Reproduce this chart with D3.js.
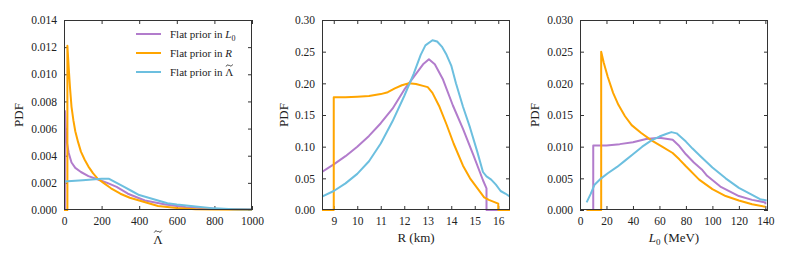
<!DOCTYPE html>
<html>
<head>
<meta charset="utf-8">
<script src="https://cdn.jsdelivr.net/npm/d3@7"></script>
<style>
  body { margin: 0; background: #fff; }
  text { font-family: "Liberation Serif", "DejaVu Serif", serif; fill: #222; }
</style>
</head>
<body>
<div class="chart"></div>
<script>
// Posterior PDFs for three prior choices, three panels

var svgWidth = 789;
var svgHeight = 263;

var seriesNames = ["L0", "R", "Lambda"];
var seriesColors = { L0: "#b27ccc", R: "#ffa500", Lambda: "#6cbfdf" };

// panel 1: tidal deformability
var lamTicks = [0, 200, 400, 600, 800, 1000];
var lamYTicks = [0, 0.002, 0.004, 0.006, 0.008, 0.010, 0.012, 0.014];
var lamL0 = [[0, 0], [5, 0], [5, 0.0073], [10, 0.0058], [15, 0.0050], [25, 0.0042], [40, 0.0035],
  [60, 0.0031], [90, 0.0028], [130, 0.0025], [170, 0.0023], [230, 0.0020], [280, 0.0017],
  [340, 0.0012], [430, 0.0007], [540, 0.0004], [650, 0.0002], [800, 0.0001], [1000, 0.00003]];
var lamR = [[0, 0], [18, 0], [18, 0.0121], [25, 0.0105], [32, 0.0090], [40, 0.0076], [50, 0.0066],
  [60, 0.0058], [75, 0.0050], [90, 0.0043], [110, 0.0037], [130, 0.0032], [155, 0.0027],
  [180, 0.0023], [210, 0.0020], [250, 0.0016], [300, 0.0012], [350, 0.0009], [400, 0.0007],
  [450, 0.0005], [500, 0.0003], [600, 0.00015], [700, 0.00006], [800, 0.00003], [1000, 0.00001]];
var lamLam = [[0, 0.0021], [100, 0.0022], [200, 0.0023], [240, 0.0023], [280, 0.0020],
  [320, 0.0017], [360, 0.0014], [400, 0.0011], [450, 0.0009], [500, 0.0007], [550, 0.0005],
  [600, 0.0004], [700, 0.00025], [800, 0.00012], [900, 0.00006], [1000, 0.00003]];

// panel 2: radius
var radTicks = [9, 10, 11, 12, 13, 14, 15, 16];
var radYTicks = [0, 0.05, 0.10, 0.15, 0.20, 0.25, 0.30];
var radL0 = [[8.5, 0.060], [9, 0.072], [9.5, 0.085], [10, 0.100], [10.5, 0.117], [11, 0.137],
  [11.5, 0.160], [12, 0.190], [12.5, 0.215], [12.8, 0.230], [13.05, 0.238], [13.3, 0.230],
  [13.65, 0.206], [14.07, 0.165], [14.5, 0.128], [14.93, 0.088], [15.35, 0.047], [15.5, 0.034],
  [15.5, 0], [16.5, 0]];
var radR = [[8.5, 0], [9, 0], [9, 0.178], [9.5, 0.178], [10, 0.179], [10.5, 0.180], [11, 0.183],
  [11.3, 0.186], [11.6, 0.192], [11.9, 0.197], [12.2, 0.200], [12.5, 0.199], [12.8, 0.196],
  [13.0, 0.194], [13.2, 0.185], [13.5, 0.163], [13.8, 0.135], [14.1, 0.105], [14.5, 0.070],
  [14.8, 0.050], [15.1, 0.035], [15.4, 0.020], [15.6, 0.016], [16, 0.010], [16, 0], [16.5, 0]];
var radLam = [[8.5, 0.021], [9, 0.030], [9.5, 0.042], [10, 0.057], [10.5, 0.077], [11, 0.105],
  [11.5, 0.140], [12, 0.180], [12.4, 0.215], [12.7, 0.245], [12.9, 0.260], [13.2, 0.268],
  [13.4, 0.266], [13.6, 0.258], [13.8, 0.245], [14.0, 0.228], [14.2, 0.200], [14.5, 0.163],
  [14.8, 0.130], [15.1, 0.093], [15.35, 0.060], [15.5, 0.053], [15.7, 0.048], [15.9, 0.040],
  [16.1, 0.030], [16.3, 0.026], [16.5, 0.021]];

// panel 3: slope of symmetry energy
var slopeTicks = [0, 20, 40, 60, 80, 100, 120, 140];
var slopeYTicks = [0, 0.005, 0.010, 0.015, 0.020, 0.025, 0.030];
var slopeL0 = [[5, 0], [10, 0], [10, 0.0102], [20, 0.0102], [30, 0.0104], [40, 0.0107],
  [50, 0.0112], [60, 0.0114], [70, 0.0111], [75, 0.0101], [80, 0.0088], [86, 0.0075],
  [92, 0.0064], [96, 0.0054], [106, 0.0037], [120, 0.0022], [130, 0.0016], [140, 0.0012],
  [140, 0.0009]];
var slopeR = [[5, 0], [16, 0], [16, 0.025], [18, 0.0232], [21, 0.021], [25, 0.0185], [29, 0.0166],
  [34, 0.0148], [39, 0.0134], [46, 0.0122], [54, 0.0110], [62, 0.0100], [70, 0.0090],
  [75, 0.0080], [80, 0.0069], [90, 0.0048], [100, 0.0033], [110, 0.0022], [120, 0.0015],
  [130, 0.0009], [140, 0.0005]];
var slopeLam = [[5, 0.0012], [8, 0.0025], [11, 0.0040], [16, 0.0050], [21, 0.0058], [28, 0.0068],
  [34, 0.0078], [40, 0.0088], [47, 0.0100], [54, 0.0110], [60, 0.0116], [65, 0.0120],
  [69, 0.0123], [73, 0.0121], [80, 0.0108], [85, 0.0097], [91, 0.0085], [100, 0.0067],
  [110, 0.0050], [120, 0.0035], [130, 0.0024], [136, 0.0017], [141, 0.0015]];

var panels = [
  { left: 64, xDomain: [0, 1000], yDomain: [0, 0.014], xTicks: lamTicks, yTicks: lamYTicks,
    xFmt: d3.format("d"), yFmt: d3.format(".3f"), pdfX: 18,
    data: { L0: lamL0, R: lamR, Lambda: lamLam } },
  { left: 322, xDomain: [8.5, 16.5], yDomain: [0, 0.30], xTicks: radTicks, yTicks: radYTicks,
    xFmt: d3.format("d"), yFmt: d3.format(".2f"), pdfX: 283,
    data: { L0: radL0, R: radR, Lambda: radLam } },
  { left: 580, xDomain: [0, 142], yDomain: [0, 0.030], xTicks: slopeTicks, yTicks: slopeYTicks,
    xFmt: d3.format("d"), yFmt: d3.format(".3f"), pdfX: 534,
    data: { L0: slopeL0, R: slopeR, Lambda: slopeLam } }
];

var plotTop = 20;
var width = 188;
var height = 190;

var svg = d3.select(".chart")
  .append("svg")
  .attr("width", svgWidth)
  .attr("height", svgHeight);

// small wavy tilde drawn over a glyph box
function addTilde(parent, box, lift) {
  var w = box.width * 0.8;
  var cx = box.x + box.width / 2;
  var cy = box.y - lift;
  var p = d3.path();
  p.moveTo(cx - w / 2, cy + 1);
  p.bezierCurveTo(cx - w / 4, cy - 2.2, cx - w / 8, cy + 0.5, cx, cy);
  p.bezierCurveTo(cx + w / 8, cy - 0.5, cx + w / 4, cy + 2.2, cx + w / 2, cy - 1);
  parent.append("path")
    .attr("d", p.toString())
    .attr("fill", "none")
    .attr("stroke", "#222")
    .attr("stroke-width", 0.9);
}

panels.forEach(function(p, i) {
  var g = svg.append("g")
    .attr("transform", `translate(${p.left}, ${plotTop})`);

  var x = d3.scaleLinear().domain(p.xDomain).range([0, width]);
  var y = d3.scaleLinear().domain(p.yDomain).range([height, 0]);

  // inward ticks on all four sides
  g.append("g")
    .attr("transform", `translate(0, ${height})`)
    .call(d3.axisBottom(x).tickValues(p.xTicks).tickFormat(p.xFmt).tickSizeInner(-4).tickSizeOuter(0).tickPadding(7));
  g.append("g")
    .call(d3.axisLeft(y).tickValues(p.yTicks).tickFormat(p.yFmt).tickSizeInner(-4).tickSizeOuter(0).tickPadding(7));
  g.append("g")
    .call(d3.axisTop(x).tickValues(p.xTicks).tickFormat("").tickSizeInner(-4).tickSizeOuter(0));
  g.append("g")
    .attr("transform", `translate(${width}, 0)`)
    .call(d3.axisRight(y).tickValues(p.yTicks).tickFormat("").tickSizeInner(-4).tickSizeOuter(0));

  g.selectAll(".domain").remove();
  g.selectAll(".tick line").attr("stroke", "#333");
  g.selectAll(".tick text")
    .style("font-family", "Liberation Serif")
    .style("font-size", "11.5px")
    .attr("fill", "#222");

  var line = d3.line()
    .x(d => x(d[0]))
    .y(d => y(d[1]));

  var clipId = "clip" + i;
  g.append("clipPath").attr("id", clipId)
    .append("rect").attr("width", width).attr("height", height + 1);

  seriesNames.forEach(function(s) {
    g.append("path")
      .datum(p.data[s])
      .attr("clip-path", `url(#${clipId})`)
      .attr("fill", "none")
      .attr("stroke", seriesColors[s])
      .attr("stroke-width", 2)
      .attr("stroke-linejoin", "round")
      .attr("d", line);
  });

  // frame
  g.append("rect")
    .attr("x", 0.5)
    .attr("y", 0.5)
    .attr("width", width - 1)
    .attr("height", height - 1)
    .attr("fill", "none")
    .attr("stroke", "#333")
    .attr("stroke-width", 1);

  // y title
  svg.append("text")
    .attr("transform", `translate(${p.pdfX}, ${plotTop + height / 2}) rotate(-90)`)
    .attr("text-anchor", "middle")
    .attr("dy", "0.35em")
    .style("font-size", "13px")
    .text("PDF");
});

// x titles
var lamTitle = svg.append("text")
  .attr("x", 64 + width / 2)
  .attr("y", 244)
  .attr("text-anchor", "middle")
  .style("font-size", "13px")
  .text("Λ");
var lb = lamTitle.node().getExtentOfChar(0);
addTilde(svg, { x: lb.x, y: 244 - 9, width: lb.width }, 3.5);

svg.append("text")
  .attr("x", 322 + width / 2)
  .attr("y", 242)
  .attr("text-anchor", "middle")
  .style("font-size", "13px")
  .text("R (km)");

var xt3 = svg.append("text")
  .attr("x", 580 + width / 2)
  .attr("y", 242)
  .attr("text-anchor", "middle")
  .style("font-size", "13px");
xt3.append("tspan").style("font-style", "italic").text("L");
xt3.append("tspan").attr("dy", 3).style("font-size", "9px").text("0");
xt3.append("tspan").attr("dy", -3).text(" (MeV)");

// legend
var legendRows = [34, 53, 72];
var legend = svg.append("g");
seriesNames.forEach(function(s, i) {
  var row = legend.append("g").attr("transform", `translate(136, ${legendRows[i]})`);
  row.append("line")
    .attr("x1", 0).attr("x2", 25)
    .attr("stroke", seriesColors[s])
    .attr("stroke-width", 2);
  var t = row.append("text")
    .attr("x", 34)
    .attr("y", 4)
    .style("font-size", "11px");
  t.append("tspan").text("Flat prior in ");
  if (s === "L0") {
    t.append("tspan").style("font-style", "italic").text("L");
    t.append("tspan").attr("dy", 3).style("font-size", "8px").text("0");
  } else if (s === "R") {
    t.append("tspan").style("font-style", "italic").text("R");
  } else {
    t.append("tspan").text("Λ");
    var b = t.node().getExtentOfChar(14);
    addTilde(row, { x: b.x, y: 4 - 7.5, width: b.width }, 3);
  }
});
</script>
</body>
</html>
